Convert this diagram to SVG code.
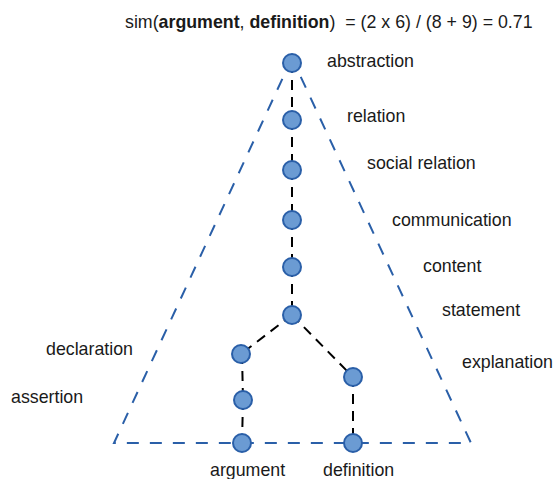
<svg xmlns="http://www.w3.org/2000/svg" width="554" height="479" viewBox="0 0 554 479">
<style>
text{font-family:"Liberation Sans",Arial,sans-serif;font-size:17.8px;fill:#1a1a1a;white-space:pre}
.tri{fill:none;stroke:#2a5fa8;stroke-width:2;stroke-dasharray:12 11}
.edge{stroke:#000;stroke-width:2;stroke-dasharray:10 7;fill:none}
.node circle{fill:#6b9bd3;stroke:#2a5fa8;stroke-width:2}
</style>
<rect width="554" height="479" fill="#fff"/>
<text x="125" y="28" xml:space="preserve">sim(<tspan font-weight="bold">argument</tspan>, <tspan font-weight="bold">definition</tspan>)  = (2 x 6) / (8 + 9) = 0.71</text>
<path class="tri" d="M292 58 L114 443 L471 443 Z"/>
<g id="connectors">
<line class="edge" x1="292" y1="63" x2="292" y2="120"/>
<line class="edge" x1="292" y1="120" x2="292" y2="170"/>
<line class="edge" x1="292" y1="170" x2="292" y2="220"/>
<line class="edge" x1="292" y1="220" x2="292" y2="267"/>
<line class="edge" x1="292" y1="267" x2="292" y2="315"/>
<line class="edge" x1="292" y1="315" x2="241" y2="354"/>
<line class="edge" x1="292" y1="315" x2="353" y2="377"/>
<line class="edge" x1="242" y1="354" x2="243" y2="400"/>
<line class="edge" x1="243" y1="400" x2="242" y2="443"/>
<line class="edge" x1="353" y1="377" x2="353" y2="443"/>
</g>
<g id="abstraction" class="node"><circle cx="292" cy="63" r="9"/><text x="327" y="67">abstraction</text></g>
<g id="relation" class="node"><circle cx="292" cy="120" r="9"/><text x="347" y="122">relation</text></g>
<g id="social_relation" class="node"><circle cx="292" cy="170" r="9"/><text x="367" y="169">social relation</text></g>
<g id="communication" class="node"><circle cx="292" cy="220" r="9"/><text x="392" y="226">communication</text></g>
<g id="content" class="node"><circle cx="292" cy="267" r="9"/><text x="423" y="272">content</text></g>
<g id="statement" class="node"><circle cx="292" cy="315" r="9"/><text x="442" y="316">statement</text></g>
<g id="declaration" class="node"><circle cx="241" cy="354" r="9"/><text x="46" y="355">declaration</text></g>
<g id="explanation" class="node"><circle cx="353" cy="377" r="9"/><text x="462" y="368">explanation</text></g>
<g id="assertion" class="node"><circle cx="243" cy="400" r="9"/><text x="11" y="403">assertion</text></g>
<g id="argument" class="node"><circle cx="242" cy="443" r="9"/><text x="210" y="476">argument</text></g>
<g id="definition" class="node"><circle cx="353" cy="443" r="9"/><text x="323" y="476">definition</text></g>
</svg>
